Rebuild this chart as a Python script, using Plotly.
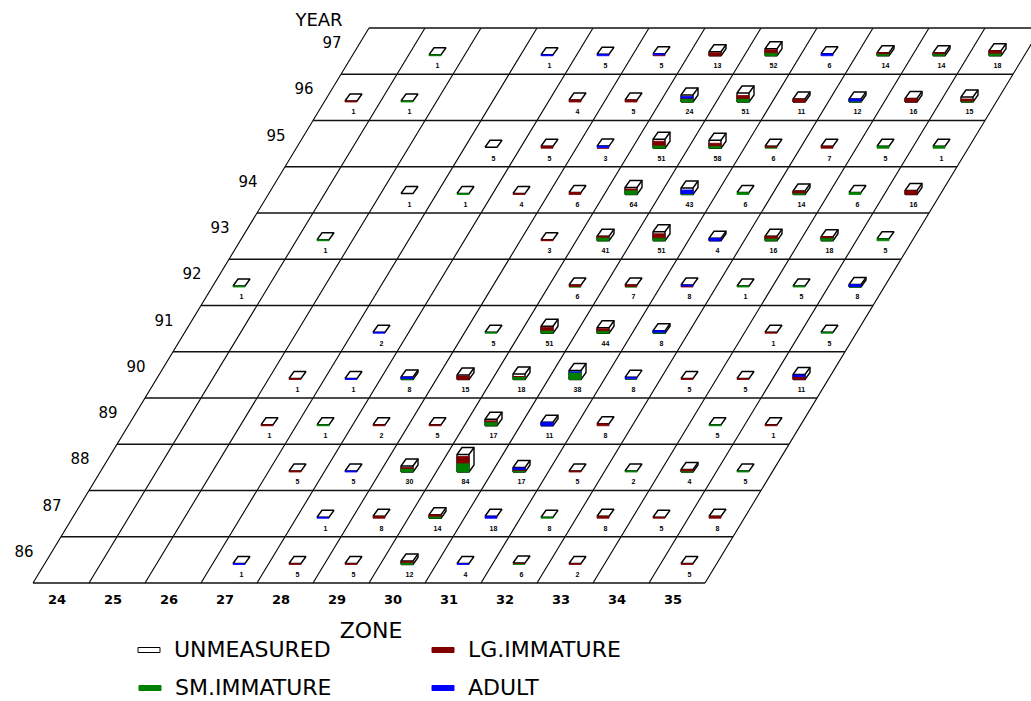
import plotly.graph_objects as go

# ---------- data ----------
YEARS = [86, 87, 88, 89, 90, 91, 92, 93, 94, 95, 96, 97]
ZONES = [24, 25, 26, 27, 28, 29, 30, 31, 32, 33, 34, 35]

cell_year = (
    [97] * 10 + [96] * 10 + [95] * 9 + [94] * 10 + [93] * 8 + [92] * 7 +
    [91] * 7 + [90] * 10 + [89] * 9 + [88] * 9 + [87] * 8 + [86] * 8
)
cell_zone = [
    25, 27, 28, 29, 30, 31, 32, 33, 34, 35,
    24, 25, 28, 29, 30, 31, 32, 33, 34, 35,
    27, 28, 29, 30, 31, 32, 33, 34, 35,
    26, 27, 28, 29, 30, 31, 32, 33, 34, 35,
    25, 29, 30, 31, 32, 33, 34, 35,
    24, 30, 31, 32, 33, 34, 35,
    27, 29, 30, 31, 32, 34, 35,
    26, 27, 28, 29, 30, 31, 32, 33, 34, 35,
    26, 27, 28, 29, 30, 31, 32, 34, 35,
    27, 28, 29, 30, 31, 32, 33, 34, 35,
    28, 29, 30, 31, 32, 33, 34, 35,
    27, 28, 29, 30, 31, 32, 33, 35,
]
cell_count = [
    "1", "1", "5", "5", "13", "52", "6", "14", "14", "18",
    "1", "1", "4", "5", "24", "51", "11", "12", "16", "15",
    "5", "5", "3", "51", "58", "6", "7", "5", "1",
    "1", "1", "4", "6", "64", "43", "6", "14", "6", "16",
    "1", "3", "41", "51", "4", "16", "18", "5",
    "1", "6", "7", "8", "1", "5", "8",
    "2", "5", "51", "44", "8", "1", "5",
    "1", "1", "8", "15", "18", "38", "8", "5", "5", "11",
    "1", "1", "2", "5", "17", "11", "8", "5", "1",
    "5", "5", "30", "84", "17", "5", "2", "4", "5",
    "1", "8", "14", "18", "8", "8", "5", "8",
    "1", "5", "5", "12", "4", "6", "2", "5",
]
# estimated stack segment readings, bottom to top
sm_immature = [
    1, 0, 0, 0, 0, 3, 0, 2, 2, 2.5,
    0, 1, 0, 0, 3.5, 3.5, 0, 1, 0, 1,
    0, 0, 0, 3, 2.5, 1, 0, 2, 2,
    0, 1, 0, 0, 4.5, 1, 2, 1.5, 2, 0,
    1, 0, 3.5, 3, 0, 2.5, 3, 2,
    1, 0.5, 0.5, 0, 1, 1, 0.5,
    0, 1, 3, 2.5, 1, 0, 1,
    0, 0, 1, 0, 3, 7.5, 0.7, 0, 0, 0,
    0, 1, 0, 0, 4, 0, 0, 1, 0,
    0, 0, 3.5, 9, 1.5, 0, 1, 1, 1,
    0, 0, 2, 0, 1, 0, 0, 0,
    0, 0, 0, 2, 0, 1, 0, 0,
]
lg_immature = [
    0, 0, 0, 1, 3, 3, 0, 1, 1, 2.5,
    1, 0, 2, 2, 0.5, 3, 3, 0, 3.5, 2,
    0, 2, 0.7, 4, 2.5, 1, 2, 0, 0,
    0, 0, 1, 2, 1, 0, 0, 2, 0, 4,
    0, 1, 1, 4, 0, 2, 1, 0,
    0, 1.5, 1.5, 1, 0, 0, 0,
    0, 0, 3, 2, 0, 1, 0,
    1, 0, 0, 3.5, 0.5, 0, 0, 1, 1, 3,
    1, 0, 1, 1, 1, 0, 2, 0, 1,
    1, 0, 1, 6.5, 1, 1, 0, 1.5, 0,
    0, 2, 1.5, 0, 0, 2, 1, 2,
    0, 1, 1, 1, 0, 0.5, 1, 1,
]
adult = [
    0, 1, 1.5, 1, 0, 0, 2, 0, 0, 0,
    0, 0, 0, 0, 1.5, 0, 0, 2, 0, 0,
    0, 0, 1.5, 0, 0, 0, 0, 0, 0,
    0, 0, 0, 0, 0, 3.5, 0, 0, 0, 0,
    0, 0, 0, 0, 2.5, 0, 0, 0,
    0, 0, 0, 1, 0, 0, 2,
    1, 0, 0, 0, 1.5, 0, 0,
    0, 1, 1.5, 0, 0, 0.5, 1.5, 0, 0, 1.5,
    0, 0, 0, 0, 0, 3.5, 0, 0, 0,
    0, 1, 0, 0, 1.5, 0, 0, 0, 0,
    1, 0, 0, 2, 0, 0, 0, 0,
    1, 0, 0, 0, 1, 0, 0, 0,
]
unmeasured = [
    0, 0, 0, 0, 1, 1, 0, 0, 0, 0,
    0, 0, 0, 0, 1.5, 2.5, 0, 0, 0, 2,
    1, 0, 0, 2, 3, 0, 0, 0, 0,
    1, 0, 0, 0, 1.5, 2, 0, 0, 0, 0,
    0, 0, 0, 2, 0, 0, 0, 0,
    0, 0, 0, 0, 0, 0, 0,
    0, 0, 1, 1, 0, 0, 0,
    0, 0, 0, 1, 2, 1, 0, 0, 0, 0.5,
    0, 0, 0, 0, 1.5, 0, 0, 0, 0,
    0, 0, 1.5, 2, 0.5, 0, 0, 0, 0,
    0, 0, 0, 0, 0, 0, 0, 0,
    0, 0, 0, 0.5, 0, 0, 0, 0,
]
legend_names = ["UNMEASURED", "LG.IMMATURE", "SM.IMMATURE", "ADULT"]

GREEN, RED, BLUE = "#008000", "#800000", "#0000ff"
W, H = 1031, 701
LEFT, BOTTOM, CELL_W, CELL_H, SHEAR = 33.0, 583.0, 56.0, 46.25, 0.5


def du(px):  # horizontal pixels to data units
    return px / CELL_W


def dv(px):  # vertical pixels to data units
    return px / CELL_H


def row(y):
    return y - YEARS[0]


def col(z):
    return z - ZONES[0]


# ---------- grid ----------
nr, nc = len(YEARS), len(ZONES)
hx, hy, sx_, sy_ = [], [], [], []
for r in range(nr + 1):
    hx += [r * SHEAR, nc + r * SHEAR, None]
    hy += [r, r, None]
for c in range(nc + 1):
    sx_ += [c, c + nr * SHEAR, None]
    sy_ += [0, nr, None]

fig = go.Figure()
fig.add_trace(go.Scatter(x=sx_, y=sy_, mode="lines", line=dict(color="#000000", width=1.1),
                         hoverinfo="skip"))
fig.add_trace(go.Scatter(x=hx, y=hy, mode="lines", line=dict(color="#111111", width=1.6),
                         hoverinfo="skip"))

# ---------- sheared 3D stacked bars ----------
FW, DX, DY = 12.0, 5.0, 7.0     # front width, depth shift (px)
OFF_X, OFF_Y = 4.0, 18.5        # bar base relative to the cell's bottom centre (px)

box_x, box_y = [], []
seg = {GREEN: ([], []), RED: ([], []), BLUE: ([], [])}
lab_x, lab_y = [], []

for i in range(len(cell_count)):
    r, c = row(cell_year[i]), col(cell_zone[i])
    x0 = c + 0.5 + r * SHEAR + du(OFF_X)
    y0 = r + dv(OFF_Y)
    fw, dx, dy = du(FW), du(DX), dv(DY)
    total = dv(sm_immature[i] + lg_immature[i] + adult[i] + unmeasured[i])
    # silhouette: front, side, top
    if (total * CELL_H) >= 2.5:
        box_x += [x0, x0 + fw, x0 + fw + dx, x0 + fw + dx, x0 + dx, x0, x0, None]
        box_y += [y0, y0, y0 + dy, y0 + dy + total, y0 + dy + total, y0 + total, y0, None]
        box_x += [x0, x0 + fw, x0 + fw, None, x0 + fw, x0 + fw + dx, None]
        box_y += [y0 + total, y0 + total, y0, None, y0 + total, y0 + total + dy, None]
    else:
        box_x += [x0, x0 + fw, x0 + fw + dx, x0 + dx, x0, None]
        box_y += [y0 + total, y0 + total, y0 + total + dy, y0 + total + dy, y0 + total, None]
    b = y0
    for h, col_ in ((sm_immature[i], GREEN), (lg_immature[i], RED), (adult[i], BLUE)):
        if h > 0:
            t = b + dv(h)
            seg[col_][0].extend([x0, x0 + fw, x0 + fw, x0, x0, None])
            seg[col_][1].extend([b, b, t, t, b, None])
            b = t
    lab_x.append(x0 + du(8.5))
    lab_y.append(r + dv(8))

fig.add_trace(go.Scatter(x=box_x, y=box_y, mode="lines", fill="toself", fillcolor="#ffffff",
                         line=dict(color="#000000", width=1.4), hoverinfo="skip"))
for color, (sx, sy) in seg.items():
    fig.add_trace(go.Scatter(x=sx, y=sy, mode="lines", fill="toself", fillcolor=color,
                             line=dict(color=color, width=0.8), hoverinfo="skip"))

fig.add_trace(go.Scatter(x=lab_x, y=lab_y, mode="text", text=cell_count, textposition="middle center",
                         textfont=dict(family="Liberation Sans", size=7, weight="bold", color="#000000"),
                         hoverinfo="skip"))

# ---------- axis labels ----------
fig.add_trace(go.Scatter(
    x=[du(-9) + row(y) * SHEAR for y in YEARS], y=[row(y) + dv(30) for y in YEARS],
    mode="text", text=[str(y) for y in YEARS], textposition="middle center",
    textfont=dict(family="DejaVu Sans", size=15, color="#000000"), hoverinfo="skip"))
fig.add_trace(go.Scatter(
    x=[col(z) + 0.5 - du(4) for z in ZONES], y=[dv(-18)] * nc,
    mode="text", text=[str(z) for z in ZONES], textposition="middle center",
    textfont=dict(family="DejaVu Sans", size=13, weight="bold", color="#000000"), hoverinfo="skip"))
fig.add_trace(go.Scatter(
    x=[du(319 - LEFT), du(371 - LEFT)], y=[dv(BOTTOM - 21), dv(BOTTOM - 632)],
    mode="text", text=["YEAR", "ZONE"], textposition="middle center",
    textfont=dict(family="DejaVu Sans", size=[18, 22], color="#000000"), hoverinfo="skip"))

# ---------- legend ----------
leg_sw_x = [138, 432, 139, 432]
leg_y = [650, 650, 688, 688]
leg_col = ["#ffffff", RED, GREEN, BLUE]
for name, sx, ly, colr in zip(legend_names, leg_sw_x, leg_y, leg_col):
    x = [du(sx - LEFT), du(sx + 22 - LEFT), du(sx + 22 - LEFT), du(sx - LEFT), du(sx - LEFT)]
    y = [dv(BOTTOM - ly + 2.5), dv(BOTTOM - ly + 2.5), dv(BOTTOM - ly - 2.5), dv(BOTTOM - ly - 2.5), dv(BOTTOM - ly + 2.5)]
    fig.add_trace(go.Scatter(x=x, y=y, mode="lines", fill="toself", fillcolor=colr,
                             line=dict(color="#000000" if colr == "#ffffff" else colr, width=1),
                             hoverinfo="skip"))
    fig.add_trace(go.Scatter(x=[du(sx + 36 - LEFT)], y=[dv(BOTTOM - ly - 1)], mode="text", text=[name],
                             textposition="middle right",
                             textfont=dict(family="DejaVu Sans", size=22, color="#000000"),
                             hoverinfo="skip"))

fig.update_layout(
    width=W, height=H, margin=dict(l=0, r=0, t=0, b=0),
    autosize=False, showlegend=False,
    paper_bgcolor="#ffffff", plot_bgcolor="#ffffff",
    xaxis=dict(visible=False, range=[du(-LEFT), du(W - LEFT)], fixedrange=True),
    yaxis=dict(visible=False, range=[dv(BOTTOM - H), dv(BOTTOM)], fixedrange=True),
)
fig.write_html("out.html", post_script="document.body.style.margin='0';",
               config={"displayModeBar": False})
